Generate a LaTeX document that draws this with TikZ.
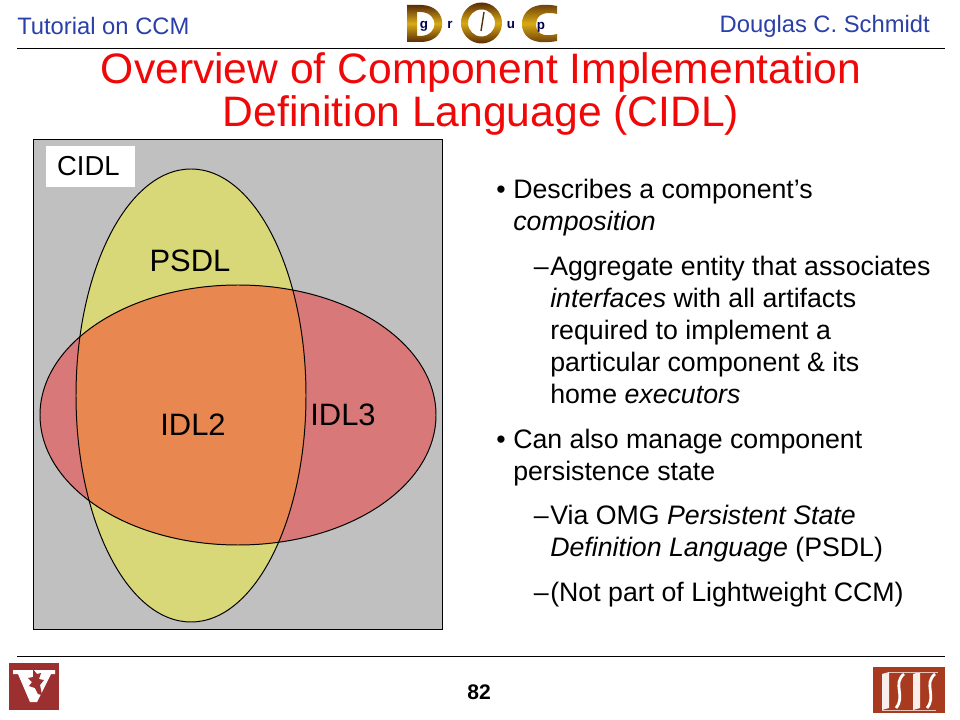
\documentclass[tikz,border=0pt]{standalone}
\usepackage{fontspec}
\setmainfont{Liberation Sans}
\usepackage{xcolor}
\usetikzlibrary{calc,positioning,shapes.geometric}
\definecolor{hdrblue}{HTML}{2A3FA8}
\definecolor{ttlred}{HTML}{F00808}
\definecolor{panelgray}{HTML}{C0C0C0}
\definecolor{psdlyel}{HTML}{D8D878}
\definecolor{idlred}{HTML}{D87878}
\definecolor{idlorg}{HTML}{E88850}
\definecolor{vured}{HTML}{9C2F2F}
\definecolor{isisred}{HTML}{A83A20}
\definecolor{docgold}{HTML}{C8861E}
\definecolor{docdark}{HTML}{5A2C08}
\tikzset{%
	header/.style  = {text=hdrblue, font=\fontsize{16.9}{18}\selectfont, inner sep=0pt},
	title/.style   = {text=ttlred, font=\fontsize{30.3}{30}\selectfont, align=center, inner sep=0pt},
	setname/.style = {font=\fontsize{22}{26}\selectfont, inner sep=0pt},
	bulletA/.style = {font=\fontsize{19}{22.7}\selectfont, anchor=north west, align=left, inner sep=0pt},
	markA/.style   = {font=\fontsize{19}{22.7}\selectfont, anchor=north east, inner sep=0pt},
	rulerline/.style = {draw=black, line width=0.7pt},
	docletter/.style = {font=\bfseries\fontsize{9.5}{10}\selectfont, text=black!70!blue, inner sep=0pt},
	docgrad/.style = {top color=docdark, bottom color=docdark, middle color=docgold!70!yellow},
}
\begin{document}
\begin{tikzpicture}[x=0.025cm,y=-0.025cm]
	\useasboundingbox (0,0) rectangle (960,720);
	% header
	\node[header,anchor=west] (course) at (17,26) {Tutorial on CCM};
	\node[header,anchor=east] (lecturer) at (930,26) {Douglas C. Schmidt};
	\draw[rulerline] (17,48) -- (945,48);
	% logo
	\path[docgrad,even odd rule] (407,5) -- (422,5) .. controls (449,6) and (449,41) .. (422,42) -- (407,42) -- cycle
		(417,12) -- (417,36) -- (421,36) .. controls (439,35) and (439,13) .. (421,12) -- cycle;
	\path[docgrad,even odd rule] (481.5,23) circle (20.5) (481.5,23) circle (13.5);
	\draw[docdark,line width=1pt] (481,31) -- (484,12);
	\path[docgrad] (557,6) -- (557,14) .. controls (541,10) and (536,18) .. (536,24) .. controls (536,32) and (541,38) .. (557,34) -- (557,41) .. controls (530,46) and (522,35) .. (522,24) .. controls (522,12) and (532,1) .. (557,6) -- cycle;
	\node[docletter] (lg) at (424,26) {g};
	\node[docletter] (lr) at (450,25) {r};
	\node[docletter] (lu) at (511,25) {u};
	\node[docletter] (lp) at (541,27) {p};
	% title
	\node[title] (ttl) at (481,94) {Overview of Component Implementation\\Definition Language (CIDL)};
	% panel
	\draw[fill=panelgray,draw=black,line width=0.5pt] (33,139) rectangle (442,629);
	\node[fill=white,inner sep=0pt,minimum width=63pt,minimum height=29pt,font=\fontsize{19.5}{20}\selectfont] (cidl) at (90.5,166.5) {CIDL\hspace*{3pt}};
	\fill[psdlyel] (191,395.5) ellipse (115 and 226.5);
	\fill[idlred] (238,415) ellipse (198 and 130);
	\begin{scope}
		\clip (191,395.5) ellipse (115 and 226.5);
		\fill[idlorg] (238,415) ellipse (198 and 130);
	\end{scope}
	\draw[line width=0.7pt] (191,395.5) ellipse (115 and 226.5);
	\draw[line width=0.7pt] (238,415) ellipse (198 and 130);
	\node[setname] (psdl) at (190,261) {PSDL};
	\node[setname] (idl2) at (193,425) {IDL2};
	\node[setname] (idl3) at (343,415) {IDL3};
	% text
	\node[markA] (m1) at (506,176) {\strut•};
	\node[bulletA] (t1) at (513,176) {\strut Describes a component’s\\\textit{composition}};
	\node[markA] (m2) at (549,253) {\strut–};
	\node[bulletA] (t2) at (550,253) {\strut Aggregate entity that associates\\\textit{interfaces} with all artifacts\\required to implement a\\particular component \& its\\home \textit{executors}};
	\node[markA] (m3) at (506,426) {\strut•};
	\node[bulletA] (t3) at (513,426) {\strut Can also manage component\\persistence state};
	\node[markA] (m4) at (549,502) {\strut–};
	\node[bulletA] (t4) at (550,502) {\strut Via OMG \textit{Persistent State}\\\textit{Definition Language} (PSDL)};
	\node[markA] (m5) at (549,579) {\strut–};
	\node[bulletA] (t5) at (550,579) {\strut (Not part of Lightweight CCM)};
	% footer
	\draw[rulerline] (17,656) -- (945,656);
	\node[font=\bfseries\fontsize{15}{18}\selectfont,inner sep=0pt] (pageno) at (479,692) {82};
	% left shield
	\fill[vured] (9,663) rectangle (59,710);
	\fill[white] (13,670) -- (55,670) -- (55,674) -- (51,674) -- (37,702) -- (30,702) -- (18,674) -- (13,674) -- cycle;
	\fill[vured] (33,669) -- (37,674) -- (41,673) -- (39,679) -- (44,680) -- (40,685) -- (42,695) -- (38,694) -- (35,688) -- (29,686) -- (32,682) -- (28,678) -- (33,677) -- cycle;
	% right shield
	\fill[isisred] (873,667) rectangle (945,713);
	\foreach \lx in {882,913}{
		\fill[white!92!isisred] (\lx,674) -- (\lx+7,672) -- (\lx+7,708) -- (\lx,710) -- cycle;
		\draw[white,line width=2pt] (\lx+22,674) .. controls (\lx+10,684) and (\lx+24,696) .. (\lx+14,708);
	}
	\draw[white!70!isisred,line width=0.5pt] (889,672) -- (938,672) (882,710) -- (936,710);
\end{tikzpicture}
\end{document}
